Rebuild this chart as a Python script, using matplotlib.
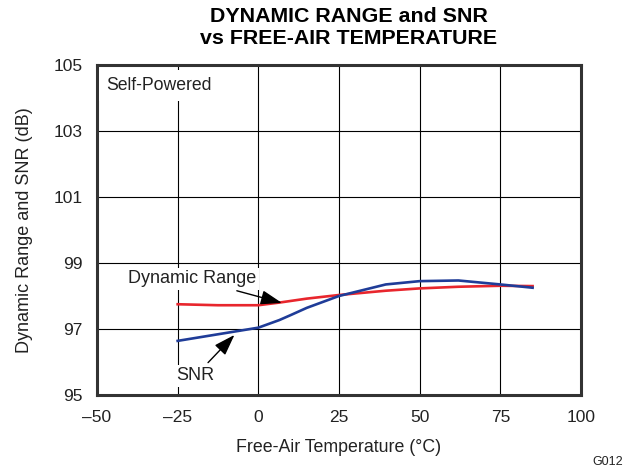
import matplotlib.pyplot as plt

# ------------------------------------------------------------
# Dados
# ------------------------------------------------------------
temp_dr = [-25, -12.5, 0, 6.5, 15, 25, 39.5, 50, 62, 75, 85]
dyn_range = [97.75, 97.72, 97.72, 97.80, 97.92, 98.03, 98.16, 98.23, 98.28, 98.31, 98.30]

temp_snr = [-25, -12.5, 0, 6.5, 10, 15, 25, 39.5, 50, 62, 75, 85]
snr = [96.64, 96.84, 97.04, 97.27, 97.42, 97.64, 98.00, 98.35, 98.45, 98.47, 98.35, 98.25]

x_ticks = [-50, -25, 0, 25, 50, 75, 100]
y_ticks = [95, 97, 99, 101, 103, 105]

plt.rcParams["font.family"] = ["Liberation Sans", "DejaVu Sans"]

fig = plt.figure(figsize=(6.34, 4.70), dpi=100)
ax = fig.add_axes([0.1530, 0.1596, 0.7634, 0.7021])

ax.plot(temp_dr, dyn_range, color="#e8262d", lw=1.9, zorder=3)
ax.plot(temp_snr, snr, color="#1f3c98", lw=1.9, zorder=4)

ax.set_xlim(-50, 100)
ax.set_ylim(95, 105)
ax.set_xticks(x_ticks)
ax.set_xticklabels([str(t).replace("-", "\u2013") for t in x_ticks])
ax.set_yticks(y_ticks)
ax.tick_params(axis="x", length=0, labelsize=12.5, pad=11, colors="#222222")
ax.tick_params(axis="y", length=0, labelsize=12.5, pad=10.5, colors="#222222")
ax.grid(True, color="black", lw=0.8)
ax.set_axisbelow(True)

for s in ax.spines.values():
    s.set_linewidth(2.2)
    s.set_color("#333333")

ax.set_xlabel("Free-Air Temperature (\u00b0C)", fontsize=12.8, color="#222222")
ax.xaxis.set_label_coords(0.5, -0.158)
ax.xaxis.label.set_verticalalignment("center")
ax.set_ylabel("Dynamic Range and SNR (dB)", fontsize=13, color="#222222")
ax.yaxis.set_label_coords(-0.149, 0.5)
ax.yaxis.label.set_verticalalignment("center")

fig.text(0.5497, 1 - 16.7 / 470, "DYNAMIC RANGE and SNR", fontsize=15.4,
         fontweight="bold", ha="center", va="center")
fig.text(0.5497, 1 - 38.8 / 470, "vs FREE-AIR TEMPERATURE", fontsize=15.4,
         fontweight="bold", ha="center", va="center")

box = dict(facecolor="white", edgecolor="none", pad=2)
arrow = dict(arrowstyle="-|>,head_length=0.65,head_width=0.22", color="black",
             lw=1, mutation_scale=20, shrinkA=2, shrinkB=0)

ax.text(-47.2, 104.39, "Self-Powered", fontsize=12.7, ha="left", va="center",
        color="#222222", bbox=dict(facecolor="white", edgecolor="none", pad=5), zorder=5)

ax.annotate("Dynamic Range", xy=(7.3, 97.79), xytext=(-0.5, 98.52),
            fontsize=13, ha="right", va="center", color="#222222", bbox=box, zorder=5,
            arrowprops=arrow)

ax.annotate("SNR", xy=(-7.4, 96.82), xytext=(-25.4, 95.58),
            fontsize=13, ha="left", va="center", color="#222222", bbox=box, zorder=5,
            arrowprops=arrow)

fig.text(0.9826, 0.016, "G012", fontsize=9, ha="right", va="center", color="#222222")

fig.savefig("out.png", dpi=100)
